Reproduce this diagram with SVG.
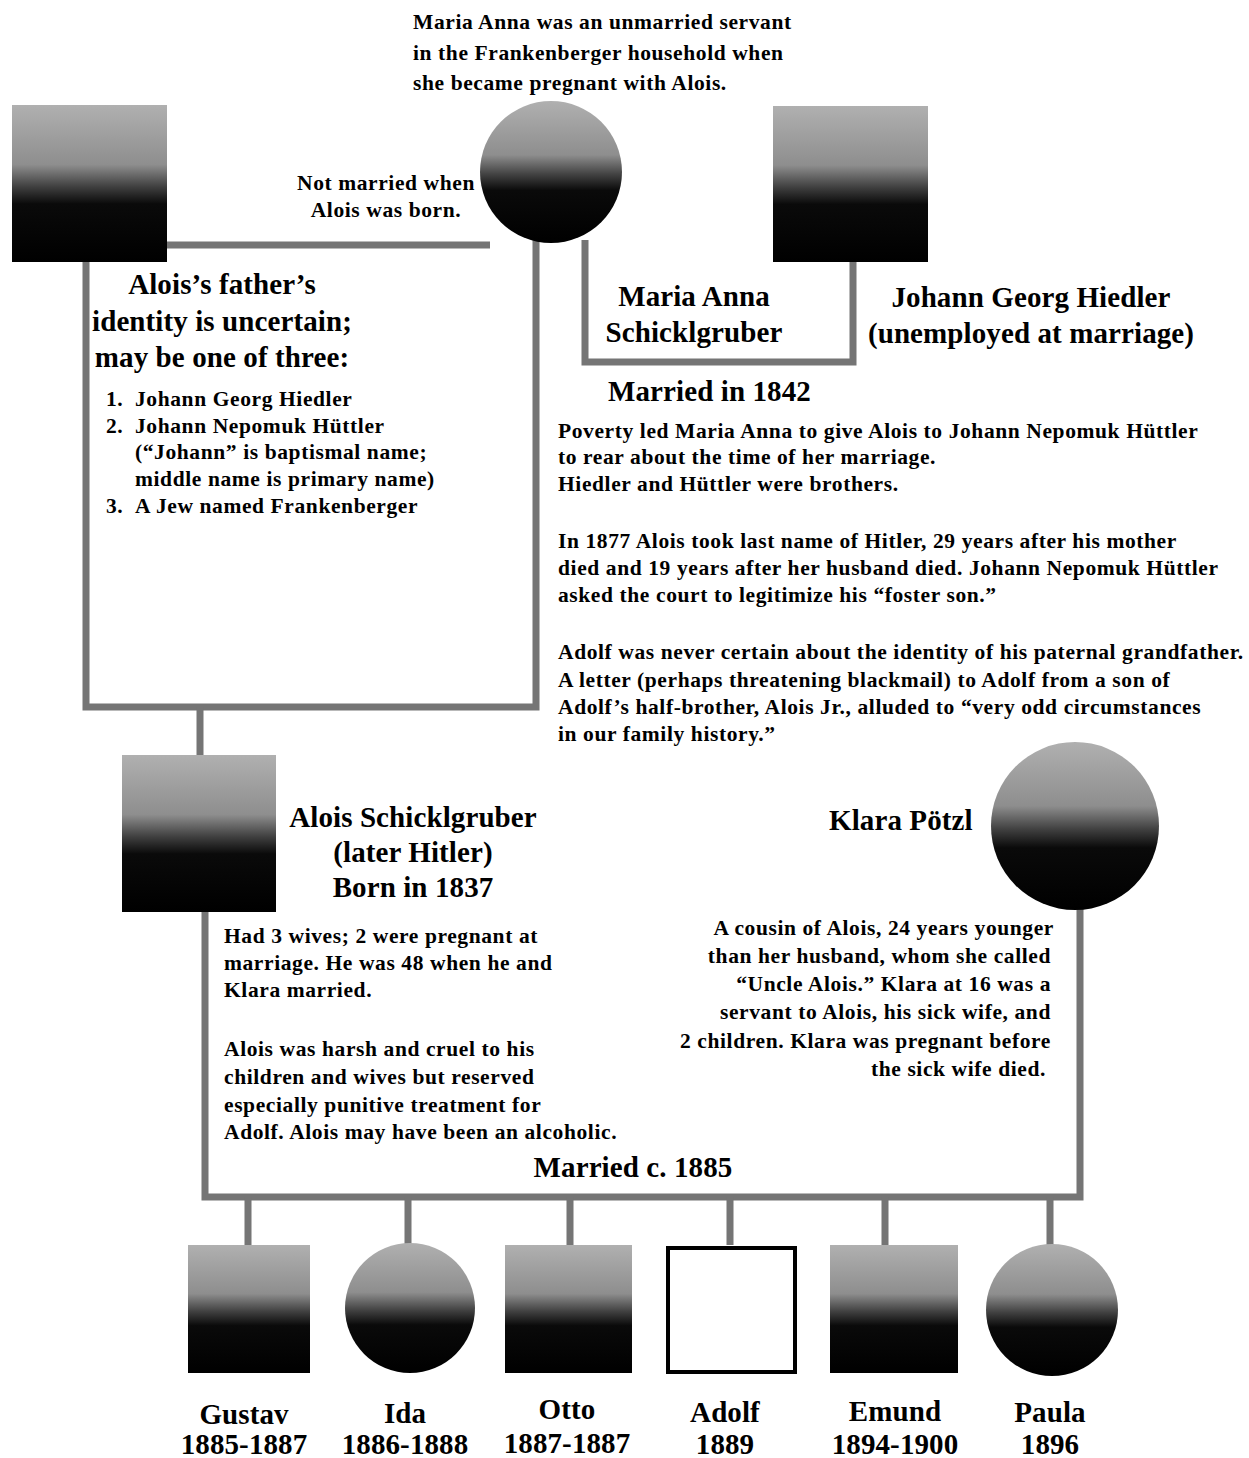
<svg xmlns="http://www.w3.org/2000/svg" width="1249" height="1458" viewBox="0 0 1249 1458">
<style>
.t{font-family:"Liberation Serif","Times New Roman",serif;font-weight:bold;fill:#000}
.s{font-size:21.5px;letter-spacing:0.6px}
.l{font-size:29px;letter-spacing:0.1px}
.c{text-anchor:middle}
.r{text-anchor:end}
.con{fill:none;stroke:#757575;stroke-width:7;stroke-linejoin:miter}
.shade{fill:url(#g)}
</style>
<defs>
<linearGradient id="g" x1="0" y1="0" x2="0" y2="1">
<stop offset="0" stop-color="#b0b0b0"/>
<stop offset="0.38" stop-color="#8e8e8e"/>
<stop offset="0.52" stop-color="#404040"/>
<stop offset="0.63" stop-color="#0a0a0a"/>
<stop offset="1" stop-color="#000"/>
</linearGradient>
</defs>
<rect width="1249" height="1458" fill="#fff"/>
<g id="connectors">
<path class="con" d="M167,245 H490"/>
<path class="con" d="M86,262 V707 H536 V238"/>
<path class="con" d="M200,707 V755"/>
<path class="con" d="M585,240 V362 H853 V262"/>
<path class="con" d="M205,912 V1197 H1080 V908"/>
<path class="con" d="M248,1197 V1245 M408,1197 V1245 M570,1197 V1245 M730,1197 V1245 M885,1197 V1245 M1050,1197 V1245"/>
</g>
<g id="unknown-father"><rect class="shade" x="12" y="105" width="155" height="157"/></g>
<g id="maria-anna"><circle class="shade" cx="551" cy="172" r="71"/></g>
<g id="johann-georg"><rect class="shade" x="773" y="106" width="155" height="156"/></g>
<g id="alois"><rect class="shade" x="122" y="755" width="154" height="157"/></g>
<g id="klara"><circle class="shade" cx="1075" cy="826" r="84"/></g>
<g id="gustav"><rect class="shade" x="188" y="1245" width="122" height="128"/></g>
<g id="ida"><circle class="shade" cx="410" cy="1308" r="65"/></g>
<g id="otto"><rect class="shade" x="505" y="1245" width="127" height="128"/></g>
<g id="adolf"><rect x="668" y="1248" width="127" height="124" fill="#fff" stroke="#000" stroke-width="4"/></g>
<g id="emund"><rect class="shade" x="830" y="1245" width="128" height="128"/></g>
<g id="paula"><circle class="shade" cx="1052" cy="1310" r="66"/></g>
<g id="texts">
<text class="t s" x="413" y="29">Maria Anna was an unmarried servant</text>
<text class="t s" x="413" y="60">in the Frankenberger household when</text>
<text class="t s" x="413" y="90">she became pregnant with Alois.</text>
<text class="t s c" x="386" y="190">Not married when</text>
<text class="t s c" x="386" y="217">Alois was born.</text>
<text class="t l c" x="222" y="294">Alois’s father’s</text>
<text class="t l c" x="222" y="331">identity is uncertain;</text>
<text class="t l c" x="222" y="367">may be one of three:</text>
<text class="t s" x="106" y="406">1.</text><text class="t s" x="135" y="406">Johann Georg Hiedler</text>
<text class="t s" x="106" y="433">2.</text><text class="t s" x="135" y="433">Johann Nepomuk Hüttler</text>
<text class="t s" x="135" y="459">(“Johann” is baptismal name;</text>
<text class="t s" x="135" y="486">middle name is primary name)</text>
<text class="t s" x="106" y="513">3.</text><text class="t s" x="135" y="513">A Jew named Frankenberger</text>
<text class="t l c" x="694" y="306">Maria Anna</text>
<text class="t l c" x="694" y="342">Schicklgruber</text>
<text class="t l c" x="1031" y="307">Johann Georg Hiedler</text>
<text class="t l c" x="1031" y="343">(unemployed at marriage)</text>
<text class="t l" x="608" y="401">Married in 1842</text>
<text class="t s" x="558" y="438">Poverty led Maria Anna to give Alois to Johann Nepomuk Hüttler</text>
<text class="t s" x="558" y="464">to rear about the time of her marriage.</text>
<text class="t s" x="558" y="491">Hiedler and Hüttler were brothers.</text>
<text class="t s" x="558" y="548">In 1877 Alois took last name of Hitler, 29 years after his mother</text>
<text class="t s" x="558" y="575">died and 19 years after her husband died. Johann Nepomuk Hüttler</text>
<text class="t s" x="558" y="602">asked the court to legitimize his “foster son.”</text>
<text class="t s" x="558" y="659">Adolf was never certain about the identity of his paternal grandfather.</text>
<text class="t s" x="558" y="687">A letter (perhaps threatening blackmail) to Adolf from a son of</text>
<text class="t s" x="558" y="714">Adolf’s half-brother, Alois Jr., alluded to “very odd circumstances</text>
<text class="t s" x="558" y="741">in our family history.”</text>
<text class="t l c" x="413" y="827">Alois Schicklgruber</text>
<text class="t l c" x="413" y="862">(later Hitler)</text>
<text class="t l c" x="413" y="897">Born in 1837</text>
<text class="t l" x="829" y="830">Klara Pötzl</text>
<text class="t s" x="224" y="943">Had 3 wives; 2 were pregnant at</text>
<text class="t s" x="224" y="970">marriage. He was 48 when he and</text>
<text class="t s" x="224" y="997">Klara married.</text>
<text class="t s" x="224" y="1056">Alois was harsh and cruel to his</text>
<text class="t s" x="224" y="1084">children and wives but reserved</text>
<text class="t s" x="224" y="1112">especially punitive treatment for</text>
<text class="t s" x="224" y="1139">Adolf. Alois may have been an alcoholic.</text>
<text class="t s r" x="1054" y="935">A cousin of Alois, 24 years younger</text>
<text class="t s r" x="1051" y="963">than her husband, whom she called</text>
<text class="t s r" x="1051" y="991">“Uncle Alois.” Klara at 16 was a</text>
<text class="t s r" x="1051" y="1019">servant to Alois, his sick wife, and</text>
<text class="t s r" x="1051" y="1048">2 children. Klara was pregnant before</text>
<text class="t s r" x="1046" y="1076">the sick wife died.</text>
<text class="t l c" x="633" y="1177">Married c. 1885</text>
<text class="t l c" x="244" y="1424">Gustav</text>
<text class="t l c" x="244" y="1454">1885-1887</text>
<text class="t l c" x="405" y="1423">Ida</text>
<text class="t l c" x="405" y="1454">1886-1888</text>
<text class="t l c" x="567" y="1419">Otto</text>
<text class="t l c" x="567" y="1453">1887-1887</text>
<text class="t l c" x="725" y="1422">Adolf</text>
<text class="t l c" x="725" y="1454">1889</text>
<text class="t l c" x="895" y="1421">Emund</text>
<text class="t l c" x="895" y="1454">1894-1900</text>
<text class="t l c" x="1050" y="1422">Paula</text>
<text class="t l c" x="1050" y="1454">1896</text>
</g>
</svg>
